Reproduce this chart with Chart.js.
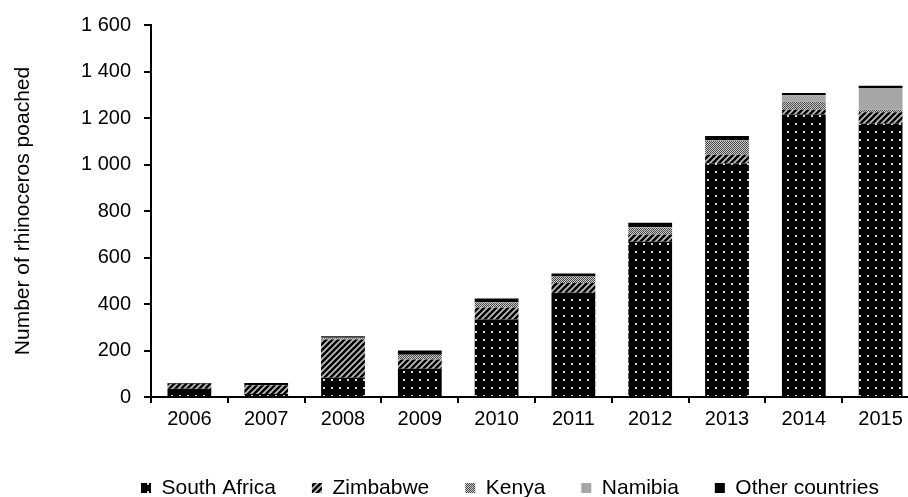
<!DOCTYPE html>
<html>
<head>
<meta charset="utf-8">
<script src="https://cdn.jsdelivr.net/npm/chart.js@4.4.1/dist/chart.umd.min.js"></script>
<style>
  html, body { margin: 0; padding: 0; background: #fff; overflow: hidden; }
  #wrap { width: 920px; height: 497px; }
</style>
</head>
<body>
<div id="wrap"><canvas id="myChart" width="920" height="497"></canvas></div>
<script>
// Rhinoceros poached per country, 2006-2015
var years = ["2006", "2007", "2008", "2009", "2010", "2011", "2012", "2013", "2014", "2015"];
var southAfrica = [36, 13, 83, 122, 333, 448, 668, 1004, 1215, 1175];
var zimbabwe = [21, 38, 164, 39, 52, 42, 31, 38, 20, 50];
var kenya = [0, 1, 6, 21, 22, 27, 30, 59, 35, 11];
var namibia = [0, 0, 2, 0, 2, 1, 2, 4, 28, 93];
var otherCountries = [3, 8, 6, 18, 15, 13, 19, 18, 10, 10];
var yTicks = [0, 200, 400, 600, 800, 1000, 1200, 1400, 1600];

var FONT = "'Liberation Sans', Arial, sans-serif";
var LEGEND_PAD = 36;
var LEGEND_FONT = 21;

// small canvas tiles used as pattern fills
function makePattern(size, drawTile) {
    var c = document.createElement('canvas');
    c.width = size; c.height = size;
    var g = c.getContext('2d');
    drawTile(g, size);
    return g.createPattern(c, 'repeat');
}

// black with light dots
var dotsFill = makePattern(8, function (g, s) {
    g.fillStyle = '#000';
    g.fillRect(0, 0, s, s);
    g.fillStyle = '#d8d8d8';
    g.fillRect(3, 3, 2, 2);
});

// diagonal hatch, black / light grey
var hatchFill = makePattern(6, function (g, s) {
    g.fillStyle = '#c0c0c0';
    g.fillRect(0, 0, s, s);
    g.strokeStyle = '#000';
    g.lineWidth = 2.6;
    g.beginPath();
    g.moveTo(-1, s + 1); g.lineTo(s + 1, -1);
    g.moveTo(-1, 1); g.lineTo(1, -1);
    g.moveTo(s - 1, s + 1); g.lineTo(s + 1, s - 1);
    g.stroke();
});

// fine checker grey
var checkFill = makePattern(2, function (g, s) {
    g.fillStyle = '#c8c8c8';
    g.fillRect(0, 0, s, s);
    g.fillStyle = '#4a4a4a';
    g.fillRect(0, 0, 1, 1);
    g.fillRect(1, 1, 1, 1);
});

function spaced(v) {
    return String(v).replace(/\B(?=(\d{3})+(?!\d))/g, ' ');
}

// put the legend where the original has it (first box at x=141, text centre y=488)
var legendPlace = {
    id: 'legendPlace',
    afterLayout: function (chart) {
        var lg = chart.legend;
        if (!lg) return;
        var w = lg.right - lg.left, h = lg.bottom - lg.top;
        lg.left = 141 - LEGEND_PAD;
        lg.right = lg.left + w;
        lg.top = 488 - LEGEND_PAD - LEGEND_FONT / 2;
        lg.bottom = lg.top + h;
    }
};

var ctx = document.getElementById('myChart').getContext('2d');

var myChart = new Chart(ctx, {
    type: 'bar',
    data: {
        labels: years,
        datasets: [{
            label: 'South Africa',
            data: southAfrica,
            backgroundColor: dotsFill
        }, {
            label: 'Zimbabwe',
            data: zimbabwe,
            backgroundColor: hatchFill
        }, {
            label: 'Kenya',
            data: kenya,
            backgroundColor: checkFill
        }, {
            label: 'Namibia',
            data: namibia,
            backgroundColor: '#a6a6a6'
        }, {
            label: 'Other countries',
            data: otherCountries,
            backgroundColor: '#000000'
        }]
    },
    options: {
        responsive: false,
        animation: false,
        layout: { padding: { top: 24, right: 1, left: 0, bottom: 0 } },
        datasets: {
            bar: { categoryPercentage: 1, barPercentage: 0.57, borderWidth: 0 }
        },
        plugins: {
            tooltip: { enabled: false },
            legend: {
                position: 'bottom',
                align: 'start',
                labels: {
                    boxWidth: 10,
                    boxHeight: 10,
                    padding: LEGEND_PAD,
                    color: '#000',
                    font: { family: FONT, size: LEGEND_FONT }
                }
            }
        },
        scales: {
            x: {
                stacked: true,
                grid: {
                    offset: true,
                    drawOnChartArea: false,
                    drawTicks: true,
                    tickLength: 6,
                    color: '#000',
                    lineWidth: 2
                },
                border: { display: true, color: '#000', width: 2 },
                ticks: { color: '#000', padding: 4, font: { family: FONT, size: 20 }, maxRotation: 0 },
                afterFit: function (s) { s.height = 33; }
            },
            y: {
                stacked: true,
                min: 0,
                max: 1600,
                afterBuildTicks: function (s) {
                    s.ticks = yTicks.map(function (v) { return { value: v }; });
                },
                grid: {
                    drawOnChartArea: false,
                    drawTicks: true,
                    tickLength: 7,
                    color: '#000',
                    lineWidth: 2
                },
                border: { display: true, color: '#000', width: 2 },
                ticks: {
                    color: '#000',
                    padding: 13,
                    font: { family: FONT, size: 20 },
                    callback: function (v) { return spaced(v); }
                },
                title: {
                    display: true,
                    text: 'Number of rhinoceros poached',
                    color: '#000',
                    font: { family: FONT, size: 21 },
                    padding: { top: 11, bottom: 0 }
                },
                afterFit: function (s) { s.width = 151; }
            }
        }
    },
    plugins: [legendPlace]
});
</script>
</body>
</html>
